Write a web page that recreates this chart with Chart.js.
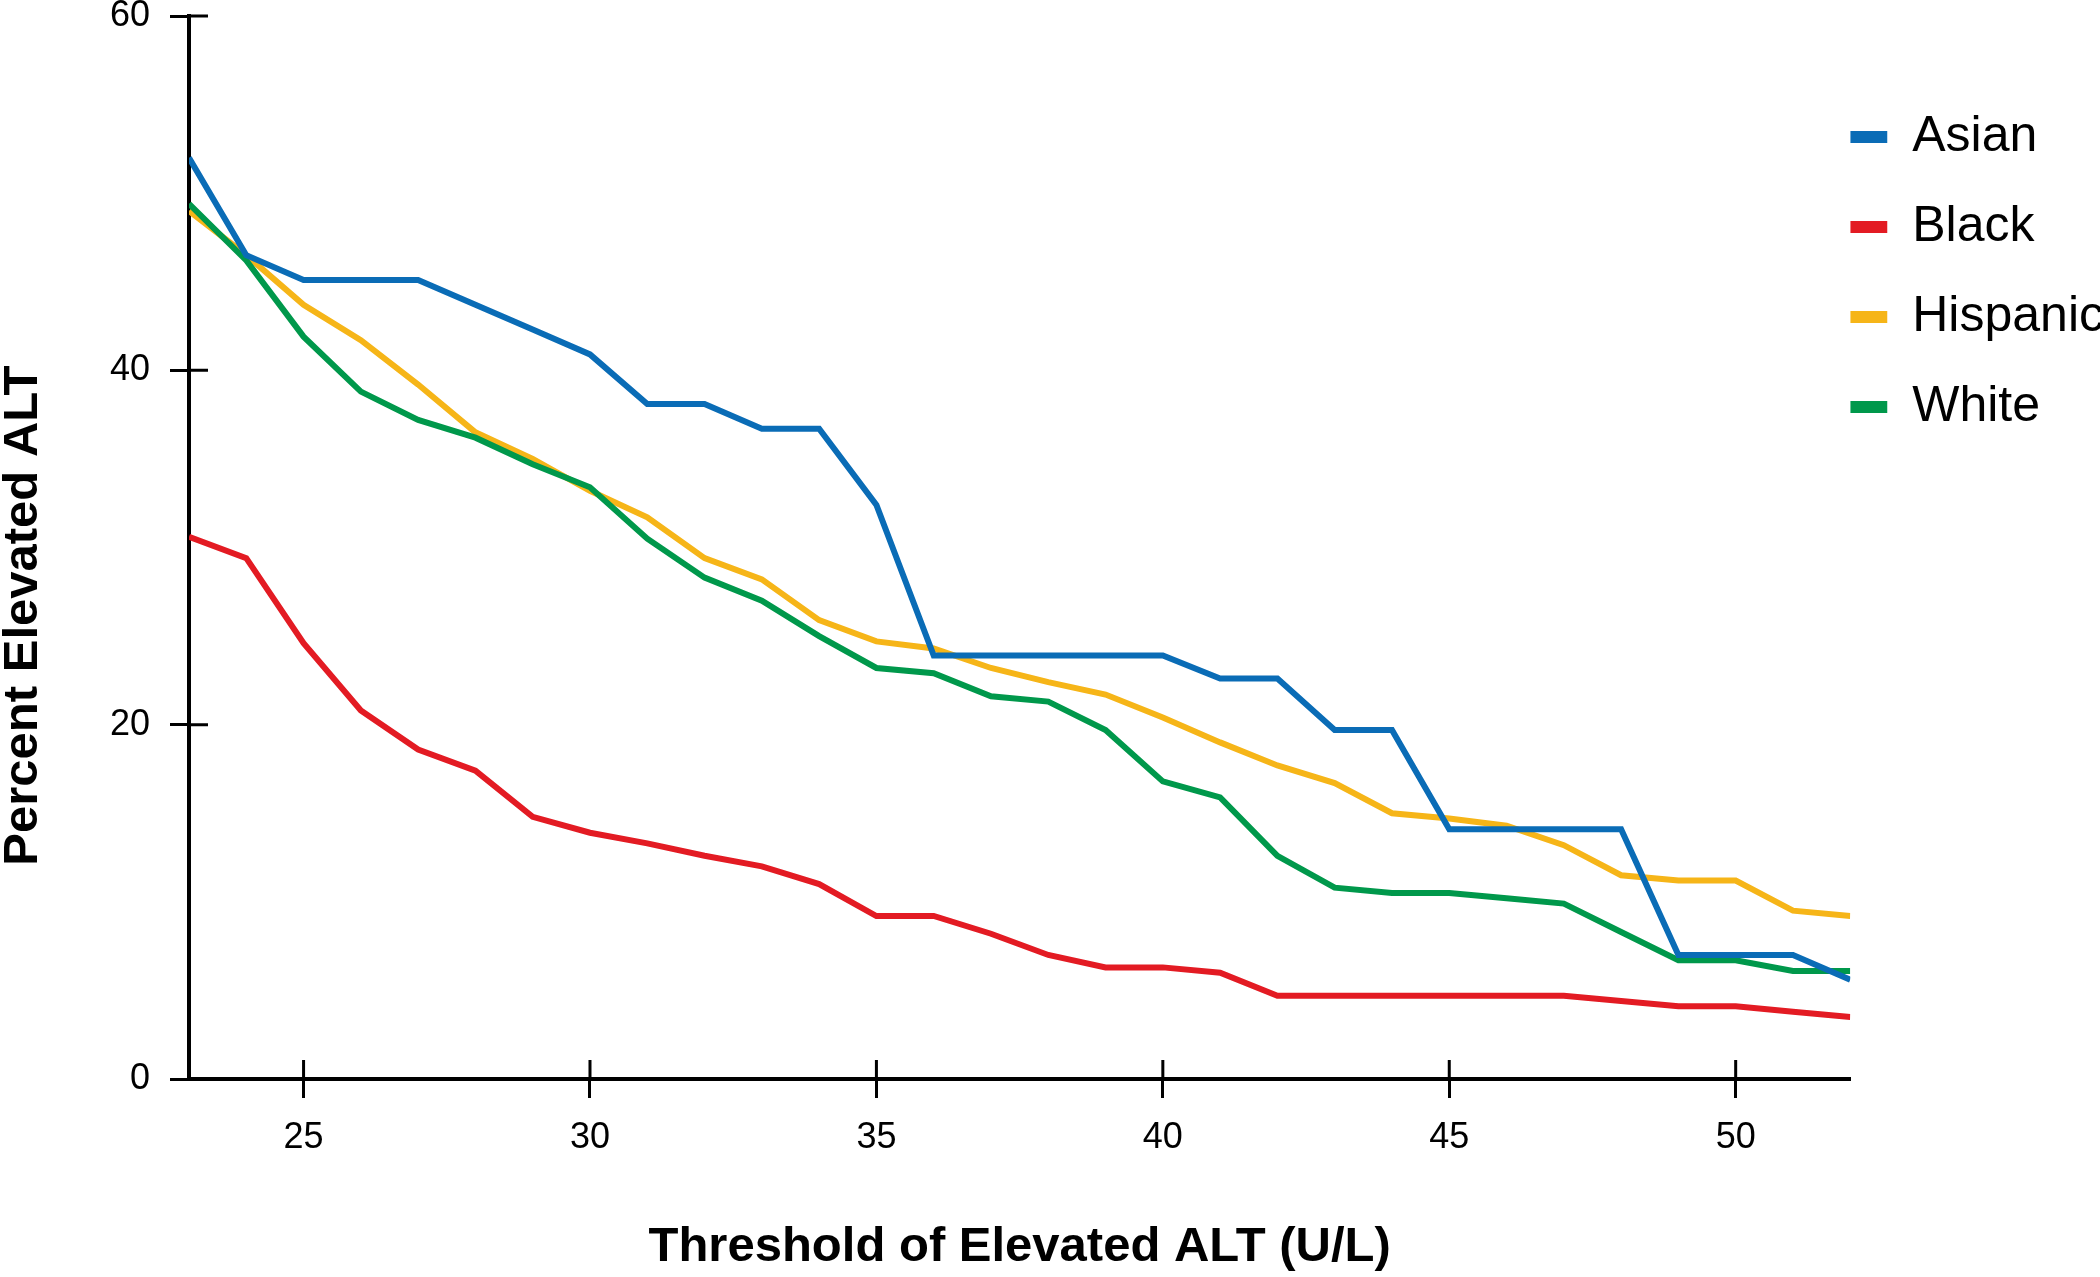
<!DOCTYPE html>
<html>
<head>
<meta charset="utf-8">
<script src="https://cdn.jsdelivr.net/npm/chart.js@4"></script>
<style>
    html, body { margin: 0; padding: 0; background: #fff; overflow: hidden; }
    #wrap { width: 2114px; height: 1277px; }
</style>
</head>
<body>
<div id="wrap"><canvas id="myChart"></canvas></div>
<script>
const thresholds = [23, 24, 25, 26, 27, 28, 29, 30, 31, 32, 33, 34, 35, 36, 37,
    38, 39, 40, 41, 42, 43, 44, 45, 46, 47, 48, 49, 50, 51, 52];

const asian = [52.0, 46.5, 45.1, 45.1, 45.1, 43.7, 42.3, 40.9, 38.1, 38.1, 36.7, 36.7, 32.4, 23.9, 23.9,
    23.9, 23.9, 23.9, 22.6, 22.6, 19.7, 19.7, 14.1, 14.1, 14.1, 14.1, 7.0, 7.0, 7.0, 5.6];
const black = [30.6, 29.4, 24.6, 20.8, 18.6, 17.4, 14.8, 13.9, 13.3, 12.6, 12.0, 11.0, 9.2, 9.2, 8.2,
    7.0, 6.3, 6.3, 6.0, 4.7, 4.7, 4.7, 4.7, 4.7, 4.7, 4.4, 4.1, 4.1, 3.8, 3.5];
const hispanic = [49.0, 46.5, 43.7, 41.7, 39.2, 36.5, 35.0, 33.2, 31.7, 29.4, 28.2, 25.9, 24.7, 24.3, 23.2,
    22.4, 21.7, 20.4, 19.0, 17.7, 16.7, 15.0, 14.7, 14.3, 13.2, 11.5, 11.2, 11.2, 9.5, 9.2];
const white = [49.4, 46.2, 41.9, 38.8, 37.2, 36.2, 34.7, 33.4, 30.5, 28.3, 27.0, 25.0, 23.2, 22.9, 21.6,
    21.3, 19.7, 16.8, 15.9, 12.6, 10.8, 10.5, 10.5, 10.2, 9.9, 8.3, 6.7, 6.7, 6.1, 6.1];

const xTicks = [25, 30, 35, 40, 45, 50];
const yTicks = [0, 20, 40, 60];

Chart.defaults.font.family = "'Liberation Sans', Arial, Helvetica, sans-serif";
Chart.defaults.color = '#000';

function series(label, values, color, order) {
    return {
        label: label,
        data: thresholds.map((t, i) => ({ x: t, y: values[i] })),
        borderColor: color,
        backgroundColor: color,
        borderWidth: 6,
        pointRadius: 0,
        tension: 0,
        order: order
    };
}

// ticks in the reference cross the axis line, chart.js only draws the outer half
const innerTicks = {
    id: 'innerTicks',
    beforeDatasetsDraw(chart) {
        const { ctx, chartArea, scales: { x, y } } = chart;
        ctx.save();
        ctx.strokeStyle = '#000';
        ctx.lineWidth = 3;
        ctx.beginPath();
        x.ticks.forEach(t => {
            const px = x.getPixelForValue(t.value);
            ctx.moveTo(px, chartArea.bottom);
            ctx.lineTo(px, chartArea.bottom - 19);
        });
        y.ticks.forEach(t => {
            const py = y.getPixelForValue(t.value);
            ctx.moveTo(chartArea.left, py);
            ctx.lineTo(chartArea.left + 19, py);
        });
        ctx.stroke();
        ctx.restore();
    }
};

const data = {
    datasets: [
        series('Asian', asian, '#0a6cb6', 0),
        series('Black', black, '#e31b23', 3),
        series('Hispanic', hispanic, '#f6b518', 2),
        series('White', white, '#00984b', 1)
    ]
};

const config = {
    type: 'line',
    data,
    plugins: [innerTicks],
    options: {
        responsive: true,
        maintainAspectRatio: false,
        animation: false,
        layout: { padding: 0 },
        scales: {
            x: {
                type: 'linear',
                min: 23,
                max: 52,
                afterBuildTicks: (scale) => { scale.ticks = xTicks.map(v => ({ value: v })); },
                afterFit: (scale) => { scale.height = 198; },
                border: { display: true, color: '#000', width: 4 },
                grid: { drawOnChartArea: false, color: '#000', tickLength: 19, tickWidth: 3 },
                ticks: { padding: 18, font: { size: 36 }, color: '#000' },
                title: {
                    display: true,
                    text: 'Threshold of Elevated ALT (U/L)',
                    font: { size: 49, weight: 'bold' },
                    padding: { top: 4, bottom: 0 }
                }
            },
            y: {
                min: 0,
                max: 60,
                afterBuildTicks: (scale) => { scale.ticks = yTicks.map(v => ({ value: v })); },
                afterFit: (scale) => { scale.width = 189; scale.paddingTop = 16; },
                border: { display: true, color: '#000', width: 4 },
                grid: { drawOnChartArea: false, color: '#000', tickLength: 19, tickWidth: 3 },
                ticks: { padding: 20, font: { size: 36 }, color: '#000' },
                title: {
                    display: true,
                    text: 'Percent Elevated ALT          ',
                    font: { size: 49, weight: 'bold', lineHeight: 0.95 },
                    padding: { top: 0, bottom: 0 }
                }
            }
        },
        plugins: {
            tooltip: { enabled: false },
            legend: {
                position: 'right',
                align: 'start',
                title: { display: true, text: '', font: { size: 10, lineHeight: 1 }, padding: { top: 102, bottom: 0 } },
                labels: {
                    boxWidth: 37,
                    boxHeight: 12,
                    padding: 0,
                    color: '#000',
                    font: { size: 50, lineHeight: 1.8 },
                    sort: (a, b) => a.datasetIndex - b.datasetIndex,
                    generateLabels: (chart) => Chart.defaults.plugins.legend.labels.generateLabels(chart)
                        .map(item => ({ ...item, text: [item.text], lineWidth: 0 }))
                }
            }
        }
    }
};

var myChart = new Chart(
    document.getElementById('myChart'),
    config
);
</script>
</body>
</html>
